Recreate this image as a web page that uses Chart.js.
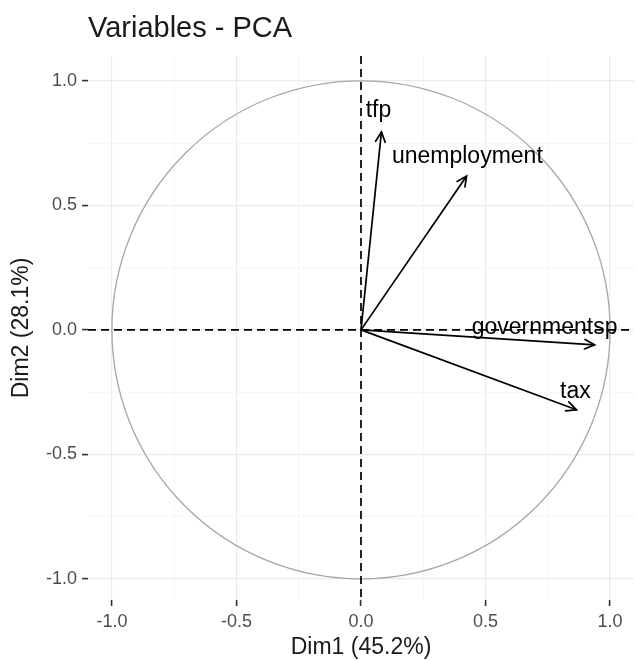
<!DOCTYPE html>
<html>
<head>
<meta charset="utf-8">
<title>Variables - PCA</title>
<script src="https://cdn.jsdelivr.net/npm/chart.js@4/dist/chart.umd.min.js"></script>
<style>
  html, body { margin: 0; padding: 0; background: #fff; }
  #wrap { width: 638px; height: 661px; }
</style>
</head>
<body>
<div id="wrap"><canvas id="pca"></canvas></div>
<script>
// variable coordinates on the first two dimensions
const variables = ["tfp", "unemployment", "governmentsp", "tax"];
const dim1 = [0.082, 0.424, 0.938, 0.865];
const dim2 = [0.795, 0.618, -0.060, -0.321];
// where each label sits (data units)
const labelX = [0.07, 0.427, 0.737, 0.861];
const labelY = [0.88, 0.695, 0.008, -0.25];
// axis ticks: majors get labels, the rest are minor grid lines
const tickValues = [-1, -0.75, -0.5, -0.25, 0, 0.25, 0.5, 0.75, 1];
const majorTicks = [-1, -0.5, 0, 0.5, 1];

const FONT = "'Liberation Sans', Arial, sans-serif";

function isMajor(v) {
  return majorTicks.some(m => Math.abs(m - v) < 1e-9);
}

function axisOptions(extra) {
  return Object.assign({
    type: 'linear',
    afterBuildTicks: scale => {
      scale.ticks = tickValues.map(v => ({ value: v }));
    },
    grid: {
      drawTicks: true,
      tickLength: 6,
      color: ctx => isMajor(ctx.tick.value) ? '#ebebeb' : '#f3f3f3',
      lineWidth: ctx => isMajor(ctx.tick.value) ? 1.2 : 0.7,
      tickColor: ctx => isMajor(ctx.tick.value) ? '#333333' : 'rgba(0,0,0,0)',
      tickWidth: 1.6
    },
    border: { display: false }
  }, extra);
}

// circle, dashed axes, arrow heads, labels and title
const pcaDecor = {
  id: 'pcaDecor',
  beforeDatasetsDraw(chart) {
    const { ctx, chartArea: a, scales: { x, y } } = chart;
    const cx = x.getPixelForValue(0), cy = y.getPixelForValue(0);
    const r = x.getPixelForValue(1) - cx;
    ctx.save();
    ctx.strokeStyle = '#a6a6a6';
    ctx.lineWidth = 1.3;
    ctx.beginPath();
    ctx.arc(cx, cy, r, 0, Math.PI * 2);
    ctx.stroke();

    ctx.strokeStyle = '#000';
    ctx.lineWidth = 1.7;
    ctx.setLineDash([8, 5]);
    ctx.beginPath();
    ctx.moveTo(a.left, cy); ctx.lineTo(a.right, cy);
    ctx.moveTo(cx, a.top); ctx.lineTo(cx, a.bottom);
    ctx.stroke();
    ctx.restore();
  },
  afterDatasetsDraw(chart) {
    const { ctx, chartArea: a, scales: { x, y } } = chart;
    const ox = x.getPixelForValue(0), oy = y.getPixelForValue(0);
    ctx.save();
    ctx.strokeStyle = '#000';
    ctx.lineWidth = 1.7;
    ctx.lineCap = 'round';
    variables.forEach((name, i) => {
      const tx = x.getPixelForValue(dim1[i]), ty = y.getPixelForValue(dim2[i]);
      const ang = Math.atan2(ty - oy, tx - ox);
      const len = 11, spread = Math.PI / 7;
      ctx.beginPath();
      ctx.moveTo(tx - len * Math.cos(ang - spread), ty - len * Math.sin(ang - spread));
      ctx.lineTo(tx, ty);
      ctx.lineTo(tx - len * Math.cos(ang + spread), ty - len * Math.sin(ang + spread));
      ctx.stroke();
    });
    ctx.fillStyle = '#000';
    ctx.font = '23px ' + FONT;
    ctx.textAlign = 'center';
    ctx.textBaseline = 'middle';
    variables.forEach((name, i) => {
      ctx.fillText(name, x.getPixelForValue(labelX[i]), y.getPixelForValue(labelY[i]));
    });
    ctx.fillStyle = '#1a1a1a';
    ctx.font = '29px ' + FONT;
    ctx.textAlign = 'left';
    ctx.textBaseline = 'alphabetic';
    ctx.fillText('Variables - PCA', a.left, 37);
    ctx.restore();
  }
};

const datasets = variables.map((name, i) => ({
  label: name,
  data: [{ x: 0, y: 0 }, { x: dim1[i], y: dim2[i] }],
  showLine: true,
  borderColor: '#000',
  borderWidth: 1.7,
  pointRadius: 0,
  fill: false
}));

new Chart(document.getElementById('pca'), {
  type: 'scatter',
  data: { datasets },
  options: {
    responsive: true,
    maintainAspectRatio: false,
    animation: false,
    devicePixelRatio: 1,
    layout: { padding: { top: 56, right: 4, left: 0, bottom: 0 } },
    plugins: { legend: { display: false }, tooltip: { enabled: false } },
    scales: {
      x: axisOptions({
        min: -1.096, max: 1.096,
        ticks: {
          autoSkip: false, maxRotation: 0, padding: 5,
          color: '#4d4d4d', font: { family: FONT, size: 18 },
          callback: v => isMajor(v) ? v.toFixed(1) : ''
        },
        title: {
          display: true, text: 'Dim1 (45.2%)', color: '#1a1a1a',
          font: { family: FONT, size: 23 }, padding: { top: 2, bottom: 0 }
        },
        afterFit: s => { s.height = 61; }
      }),
      y: axisOptions({
        min: -1.085, max: 1.10,
        ticks: {
          autoSkip: false, padding: 5,
          color: '#4d4d4d', font: { family: FONT, size: 18 },
          callback: v => isMajor(v) ? v.toFixed(1) : ''
        },
        title: {
          display: true, text: 'Dim2 (28.1%)', color: '#1a1a1a',
          font: { family: FONT, size: 23 }, padding: { top: 8, bottom: 0 }
        },
        afterFit: s => { s.width = 88; }
      })
    }
  },
  plugins: [pcaDecor]
});
</script>
</body>
</html>
